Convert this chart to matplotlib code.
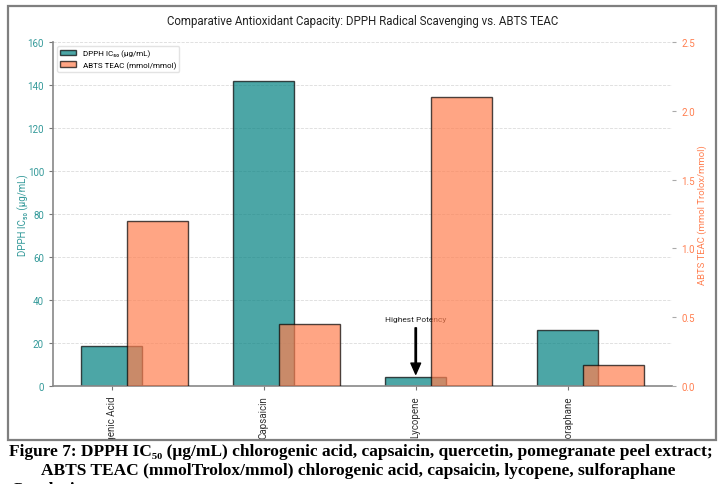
import numpy as np
import matplotlib
matplotlib.use('Agg')
import matplotlib.pyplot as plt
from matplotlib.patches import Rectangle

plt.rcParams['font.family'] = ['Roboto', 'DejaVu Sans']

compounds = ['Chlorogenic Acid', 'Capsaicin', 'Lycopene', 'Sulforaphane']
dpph_ic50 = [18.5, 142, 4.2, 26]        # ug/mL
abts_teac = [1.2, 0.45, 2.1, 0.15]      # mmol Trolox/mmol

teal_c = '#008080'
coral_c = '#ff7f50'

x = np.arange(len(compounds))
w = 0.4

fig = plt.figure(figsize=(7.23, 4.85), dpi=100)
ax1 = fig.add_axes([0.0733, 0.2021, 0.8562, 0.7092])
ax2 = ax1.twinx()

b1 = ax1.bar(x, dpph_ic50, w, color=teal_c, alpha=0.7, edgecolor='black',
             linewidth=1, label='DPPH IC₅₀ (μg/mL)')
b2 = ax2.bar(x + 0.3, abts_teac, w, color=coral_c, alpha=0.7, edgecolor='black',
             linewidth=1, label='ABTS TEAC (mmol/mmol)')

ax1.set_ylim(0, 160)
ax2.set_ylim(0, 2.5)
ax1.set_yticks(np.arange(0, 161, 20))
ax2.set_yticks(np.arange(0, 2.51, 0.5))

ax1.set_xticks(x)
ax1.set_xticklabels(compounds, rotation=90, fontsize=7, color='#333333')

ax1.set_ylabel('DPPH IC₅₀ (μg/mL)', color=teal_c, fontsize=7, alpha=0.8, labelpad=-1)
ax2.set_ylabel('ABTS TEAC (mmol Trolox/mmol)', color=coral_c, fontsize=6.8, labelpad=2)
ax1.tick_params(axis='y', colors=teal_c, labelsize=7, length=3, color='#777777')
ax2.tick_params(axis='y', colors=coral_c, labelsize=7, length=3, color='#aaaaaa')
ax1.tick_params(axis='x', length=3, color='#777777')
for lab in ax1.get_yticklabels():
    lab.set_alpha(0.8)

ax1.grid(axis='y', linestyle='--', color='#cccccc', linewidth=0.6, alpha=0.7)
ax1.set_axisbelow(True)

for s in ['top', 'right']:
    ax1.spines[s].set_visible(False)
for s in ['top', 'right', 'left', 'bottom']:
    ax2.spines[s].set_visible(False)
ax1.spines['left'].set_color('#888888')
ax1.spines['left'].set_linewidth(1.2)
ax1.spines['bottom'].set_color('#888888')
ax1.spines['bottom'].set_linewidth(1.2)

ax1.set_title('Comparative Antioxidant Capacity: DPPH Radical Scavenging vs. ABTS TEAC',
              fontsize=8.3, color='#222222', pad=13)

ax1.annotate('Highest Potency', xy=(2, dpph_ic50[2]), xytext=(2, 31),
             ha='center', va='center', fontsize=6, color='#222222',
             arrowprops=dict(facecolor='black', shrink=0.05, width=1,
                             headwidth=7, headlength=8))

ax1.legend([b1, b2], [b1.get_label(), b2.get_label()], loc='upper left',
           fontsize=5.8, frameon=True, framealpha=0.8, edgecolor='#dddddd')

# document page around the chart image
fig.add_artist(Rectangle((0, 0), 1, 0.0907, transform=fig.transFigure,
                         facecolor='white', edgecolor='none', zorder=10))
fig.add_artist(Rectangle((8 / 723, 0.0907), 708 / 723, 434 / 485,
                         transform=fig.transFigure, facecolor='none',
                         edgecolor='#7f7f7f', linewidth=1.6, zorder=11))

serif = ['Liberation Serif', 'DejaVu Serif']
fig.text(361 / 723, 1 - 452 / 485,
         'Figure 7: DPPH IC₅₀ (μg/mL) chlorogenic acid, capsaicin, quercetin, pomegranate peel extract;',
         ha='center', va='center', fontsize=12.5, fontweight='bold', family=serif, zorder=12)
fig.text(358.5 / 723, 1 - 471 / 485,
         'ABTS TEAC (mmolTrolox/mmol) chlorogenic acid, capsaicin, lycopene, sulforaphane',
         ha='center', va='center', fontsize=12.5, fontweight='bold', family=serif, zorder=12)
fig.text(10 / 723, 1 - 482 / 485, 'Conclusion', ha='left', va='top',
         fontsize=12.5, fontweight='bold', family=serif, zorder=12)

fig.savefig('out.png', dpi=100)
